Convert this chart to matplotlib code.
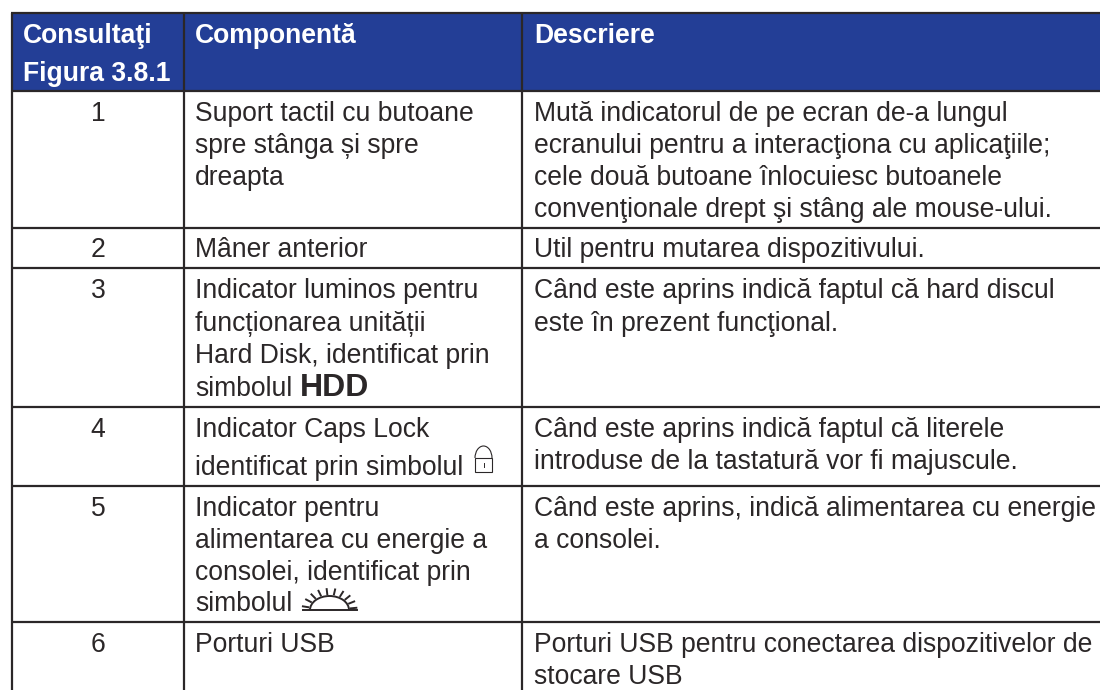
import matplotlib
matplotlib.use('Agg')
import matplotlib.pyplot as plt
import numpy as np
from matplotlib.patches import Rectangle, Arc

headers = [["Consultaţi", "Figura 3.8.1"], ["Componentă"], ["Descriere"]]
numbers = ["1", "2", "3", "4", "5", "6"]
components = [
    ["Suport tactil cu butoane", "spre stânga și spre", "dreapta"],
    ["Mâner anterior"],
    ["Indicator luminos pentru", "funcționarea unității", "Hard Disk, identificat prin", "simbolul"],
    ["Indicator Caps Lock", "identificat prin simbolul"],
    ["Indicator pentru", "alimentarea cu energie a", "consolei, identificat prin", "simbolul"],
    ["Porturi USB"],
]
descriptions = [
    ["Mută indicatorul de pe ecran de-a lungul", "ecranului pentru a interacţiona cu aplicaţiile;",
     "cele două butoane înlocuiesc butoanele", "convenţionale drept şi stâng ale mouse-ului."],
    ["Util pentru mutarea dispozitivului."],
    ["Când este aprins indică faptul că hard discul", "este în prezent funcţional."],
    ["Când este aprins indică faptul că literele", "introduse de la tastatură vor fi majuscule."],
    ["Când este aprins, indică alimentarea cu energie", "a consolei."],
    ["Porturi USB pentru conectarea dispozitivelor de", "stocare USB"],
]

FONT = 'Liberation Sans'
FS = 19.1
INK = '#2b2728'
BLUE = '#233e96'
col_x = [12, 184, 522, 1100]
row_y = [13, 91, 227.5, 268, 406.5, 486, 622, 690]
header_base = [43, 81]
base = [[121, 153, 185, 217], [257], [298, 331, 363, 396], [437, 475], [516, 548, 580, 611], [652, 684]]
desc_base = [[121, 153, 185, 217], [257], [298, 331], [437, 469], [516, 548], [652, 684]]

fig = plt.figure(figsize=(11, 6.9), dpi=100)
ax = fig.add_axes([0, 0, 1, 1])
ax.set_xlim(0, 1100)
ax.set_ylim(690, 0)
ax.axis('off')

ax.add_patch(Rectangle((col_x[0], row_y[0]), col_x[-1] - col_x[0], row_y[1] - row_y[0], color=BLUE, lw=0))

def txt(x, y, s, **kw):
    kw.setdefault('color', INK)
    kw.setdefault('fontsize', FS)
    return ax.text(x, y, s, family=FONT, va='baseline', **kw)

for i, y in enumerate(header_base):
    txt(23, y, headers[0][i], color='white', fontweight='bold')
txt(195, header_base[0], headers[1][0], color='white', fontweight='bold')
txt(534, header_base[0], headers[2][0], color='white', fontweight='bold')

for r in range(6):
    txt(98, base[r][0], numbers[r], ha='center')
    for s, y in zip(components[r], base[r]):
        txt(195, y, s)
    for s, y in zip(descriptions[r], desc_base[r]):
        txt(534, y, s)

txt(300, 396, "HDD", fontweight='bold', fontsize=23)

# grid lines
for y in row_y[:-1]:
    ax.plot([col_x[0] - 1, 1100], [y, y], color=INK, lw=1.6, solid_capstyle='butt')
for x in col_x[:-1]:
    ax.plot([x, x], [row_y[0], 690], color=INK, lw=1.6, solid_capstyle='butt')

# lock icon
lw = 0.8
ax.add_patch(Rectangle((475, 458), 17, 14, fill=False, ec=INK, lw=lw))
ax.add_patch(Arc((483.5, 458), 17, 24, theta1=180, theta2=360, ec=INK, lw=lw))
ax.plot([483.5, 483.5], [463, 467], color=INK, lw=0.7)

# sun icon
cx, cy = 329.5, 610
ax.plot([303, 357], [cy, cy], color=INK, lw=1.4)
ax.add_patch(Arc((cx, cy), 39, 28, theta1=180, theta2=360, ec=INK, lw=1.4))
for a in np.deg2rad([6, 24, 42, 60, 78, 96, 114, 132, 150, 170]):
    ax.plot([cx + 21.5 * np.cos(a), cx + 27 * np.cos(a)], [cy - 16 * np.sin(a), cy - 21 * np.sin(a)], color=INK, lw=1.4)

fig.savefig('out.png', dpi=100, facecolor='white')
